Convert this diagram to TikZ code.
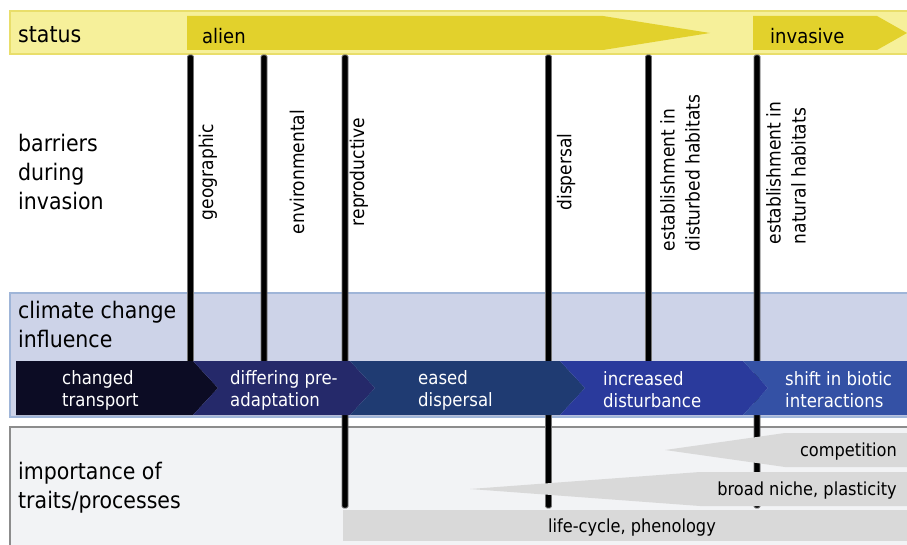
\documentclass[tikz,border=0pt]{standalone}
\usepackage{fontspec}
\setmainfont{DejaVu Sans}[FakeStretch=0.9]
\definecolor{ylight}{HTML}{F6F09A}
\definecolor{ybord}{HTML}{E9DE6A}
\definecolor{ydark}{HTML}{E2D12C}
\definecolor{cbox}{HTML}{CDD3E8}
\definecolor{cbord}{HTML}{9FB5D8}
\definecolor{chA}{HTML}{0C0C24}
\definecolor{chB}{HTML}{25296A}
\definecolor{chC}{HTML}{1F3B72}
\definecolor{chD}{HTML}{2A3A9C}
\definecolor{chE}{HTML}{3451A5}
\definecolor{ibox}{HTML}{F2F3F5}
\definecolor{ibord}{HTML}{8C8C8C}
\definecolor{garrow}{HTML}{D9D9D9}
\begin{document}
\begin{tikzpicture}[x=1pt,y=-1pt,
  biglabel/.style={anchor=west,align=left,inner sep=0pt,font=\fontsize{22.8}{29}\selectfont},
  chevlabel/.style={anchor=west,align=left,inner sep=0pt,text=white,font=\fontsize{18.4}{22}\selectfont},
  barlabel/.style={rotate=90,align=left,inner sep=0pt,font=\fontsize{19}{25}\selectfont},
  statlabel/.style={anchor=west,inner sep=0pt,font=\fontsize{20}{24}\selectfont},
  traitlabel/.style={inner sep=0pt,font=\fontsize{18}{20}\selectfont},
  barrier/.style={fill=black,draw=black!55,line width=0.8pt,rounded corners=1.5pt}]
\useasboundingbox (0,0) rectangle (907,545);
% status band
\path[draw=ybord,fill=ylight,line width=1.2pt] (10,11) rectangle (915,54);
\fill[ydark] (187,16) -- (603,16) -- (710,33) -- (603,50) -- (187,50) -- cycle;
\fill[ydark] (753,16) -- (877,16) -- (907,33) -- (877,50) -- (753,50) -- cycle;
% climate box
\path[draw=cbord,fill=cbox,line width=1.2pt] (10,293) rectangle (915,417);
% importance box
\path[draw=ibord,fill=ibox,line width=1.2pt] (10,427) rectangle (915,560);
% barriers
\path[barrier] (187.5,55) rectangle (193.5,372);
\path[barrier] (261,55) rectangle (267,372);
\path[barrier] (342,55) rectangle (348,508);
\path[barrier] (545.5,55) rectangle (551.5,508);
\path[barrier] (645.5,55) rectangle (651.5,372);
\path[barrier] (754,55) rectangle (760,508);
% chevrons
\fill[chA] (16,361) -- (193,361) -- (218,388) -- (193,415) -- (16,415) -- cycle;
\fill[chB] (193,361) -- (350,361) -- (375,388) -- (350,415) -- (193,415) -- (218,388) -- cycle;
\fill[chC] (350,361) -- (560,361) -- (585,388) -- (560,415) -- (350,415) -- (375,388) -- cycle;
\fill[chD] (560,361) -- (743,361) -- (768,388) -- (743,415) -- (560,415) -- (585,388) -- cycle;
\fill[chE] (743,361) -- (915,361) -- (915,415) -- (743,415) -- (768,388) -- cycle;
% trait arrows
\fill[garrow] (665,450) -- (785,433) -- (915,433) -- (915,467) -- (785,467) -- cycle;
\fill[garrow] (470,489) -- (700,472) -- (915,472) -- (915,506) -- (700,506) -- cycle;
\fill[garrow] (343,510) rectangle (915,541);
% left labels
\node[biglabel] (status) at (18,35) {status};
\node[biglabel] (barriers) at (18,172) {barriers\\during\\invasion};
\node[biglabel] (climate) at (18,324) {climate change\\influence};
\node[biglabel] (importance) at (18,488) {importance of\\traits/processes};
% status labels
\node[statlabel] (alien) at (202,36) {alien};
\node[statlabel] (invasive) at (770,36) {invasive};
% barrier labels
\node[barlabel] (geo) at (208,172) {geographic};
\node[barlabel] (env) at (297,172) {environmental};
\node[barlabel] (rep) at (359,172) {reproductive};
\node[barlabel] (disp) at (566,172) {dispersal};
\node[barlabel] (estd) at (680,173) {establishment in\\disturbed habitats};
\node[barlabel] (estn) at (786,173) {establishment in\\natural habitats};
% chevron labels
\node[chevlabel] (transport) at (62,390) {changed\\transport};
\node[chevlabel] (preadapt) at (230,390) {differing pre-\\adaptation};
\node[chevlabel] (eased) at (418,390) {eased\\dispersal};
\node[chevlabel] (disturb) at (603,390) {increased\\disturbance};
\node[chevlabel] (biotic) at (785,390) {shift in biotic\\interactions};
% trait labels
\node[traitlabel,anchor=east] (comp) at (897,452) {competition};
\node[traitlabel,anchor=east] (niche) at (897,491) {broad niche, plasticity};
\node[traitlabel] (life) at (632,528) {life-cycle, phenology};
\end{tikzpicture}
\end{document}
